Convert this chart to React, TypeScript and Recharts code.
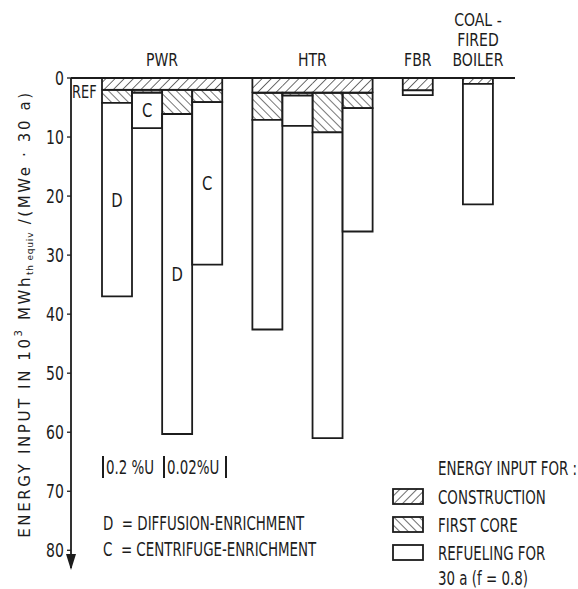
import { BarChart, Bar, XAxis, YAxis, ReferenceLine, LabelList } from 'recharts'

const FONT = "'DejaVu Sans', sans-serif"
const INK = '#1c1c1c'
const SQUEEZE = 0.67

// slots along the x axis; gap slots keep the groups apart
const categories = ['PWR-D-0.2', 'PWR-C-0.2', 'PWR-D-0.02', 'PWR-C-0.02', 'gap1', 'HTR-1', 'HTR-2', 'HTR-3', 'HTR-4', 'gap2', 'FBR', 'gap3', 'COAL']
const construction = [2.0, 2.0, 2.0, 2.0, null, 2.5, 2.5, 2.5, 2.5, null, 2.1, null, 1.0]
const firstCore = [2.2, 0.5, 4.1, 2.1, null, 4.6, 0.5, 6.7, 2.6, null, null, null, null]
const refueling = [32.8, 6.0, 54.2, 27.5, null, 35.5, 5.1, 51.8, 20.9, null, 0.8, null, 20.4]
const enrichment = ['D', 'C', 'D', 'C', null, null, null, null, null, null, null, null, null]

const groups = [
  { label: ['PWR'], start: 0, size: 4 },
  { label: ['HTR'], start: 5, size: 4 },
  { label: ['FBR'], start: 10, size: 1 },
  { label: ['COAL -', 'FIRED', 'BOILER'], start: 12, size: 1 },
]

const yTicks = [0, 10, 20, 30, 40, 50, 60, 70, 80]

const data = categories.map((name, i) => ({
  name,
  construction: construction[i],
  firstCore: firstCore[i],
  refueling: refueling[i],
  enrich: enrichment[i],
}))

const legendTitle = 'ENERGY INPUT FOR :'
const legendItems = [
  { key: 'constr', text: ['CONSTRUCTION'] },
  { key: 'core', text: ['FIRST CORE'] },
  { key: 'none', text: ['REFUELING FOR', '30 a (f = 0.8)'] },
]
const notes = ['D  = DIFFUSION-ENRICHMENT', 'C  = CENTRIFUGE-ENRICHMENT']
const uranium = ['0.2 %U', '0.02%U']

function groupOf(i: number) {
  return groups.find((g) => i >= g.start && i < g.start + g.size)
}

function squeeze(x: number, s = SQUEEZE) {
  return `translate(${x},0) scale(${s},1) translate(${-x},0)`
}

function ConstructionShape(props: any) {
  const { x, width, index } = props
  const y = Math.min(props.y, props.y + props.height)
  const h = Math.abs(props.height)
  const g = groupOf(index)
  const first = g ? index === g.start : true
  const last = g ? index === g.start + g.size - 1 : true
  return (
    <g stroke={INK} strokeWidth={1.8}>
      <rect x={x} y={y} width={width} height={h} fill="url(#constr)" stroke="none" />
      <line x1={x} x2={x + width} y1={y + h} y2={y + h} />
      {first && <line x1={x} x2={x} y1={y} y2={y + h} />}
      {last && <line x1={x + width} x2={x + width} y1={y} y2={y + h} />}
    </g>
  )
}

function GroupTick(props: any) {
  const { x, y, index } = props
  const g = groups.find((gr) => gr.start === index)
  if (!g) return null
  const slot = 30
  const cx = x + ((g.size - 1) * slot) / 2
  const n = g.label.length
  return (
    <text x={cx} y={y - 12} textAnchor="middle" fontFamily={FONT} fontSize={18} fill={INK} transform={squeeze(cx, 0.78)}>
      {g.label.map((line, k) => (
        <tspan key={k} x={cx} y={y - 12 - (n - 1 - k) * 20}>
          {line}
        </tspan>
      ))}
    </text>
  )
}

function YTick(props: any) {
  const { x, y, payload } = props
  return (
    <text x={x} y={y} dy={7} textAnchor="end" fontFamily={FONT} fontSize={19} fill={INK} transform={squeeze(x, 0.74)}>
      {payload.value}
    </text>
  )
}

function BarLetter(props: any) {
  const { x, y, width, height, value } = props
  if (!value) return null
  const cx = x + width / 2
  const cy = y + height / 2
  return (
    <text x={cx} y={cy} dy={7} textAnchor="middle" fontFamily={FONT} fontSize={20} fill={INK} transform={squeeze(cx, 0.74)}>
      {value}
    </text>
  )
}

function YLabel(props: any) {
  const vb = props.viewBox
  const cx = vb.x - 1
  const cy = vb.y + vb.height / 2 - 9
  return (
    <text
      x={cx}
      y={cy}
      transform={`rotate(-90, ${cx}, ${cy})`}
      textAnchor="middle"
      dominantBaseline="central"
      fontFamily={FONT}
      fontSize={15}
      letterSpacing={2.6}
      fill={INK}
    >
      <tspan>ENERGY INPUT IN 10</tspan>
      <tspan dy={-7} fontSize={10}>3</tspan>
      <tspan dy={7}> MWh</tspan>
      <tspan dy={5} fontSize={9} letterSpacing={0.8}>th equiv</tspan>
      <tspan dy={-5}>{' /(MWe · 30 a)'}</tspan>
    </text>
  )
}

function Line({ left, top, children }: { left: number; top: number; children: any }) {
  return (
    <div
      style={{
        position: 'absolute',
        left,
        top,
        fontFamily: FONT,
        fontSize: 20,
        lineHeight: '20px',
        color: INK,
        whiteSpace: 'pre',
        transform: `scaleX(${SQUEEZE})`,
        transformOrigin: 'left top',
      }}
    >
      {children}
    </div>
  )
}

function Swatch({ kind, top }: { kind: string; top: number }) {
  return (
    <svg width={32} height={17} style={{ position: 'absolute', left: 392, top }}>
      <defs>
        <pattern id={`lg-${kind}`} width={6} height={6} patternUnits="userSpaceOnUse" patternTransform={`rotate(${kind === 'constr' ? 45 : -45})`}>
          <line x1={0} y1={0} x2={0} y2={6} stroke={INK} strokeWidth={1.3} />
        </pattern>
      </defs>
      <rect x={1} y={1} width={30} height={15} fill={kind === 'none' ? '#fff' : `url(#lg-${kind})`} stroke={INK} strokeWidth={1.8} />
    </svg>
  )
}

function LegendBox() {
  const rowTops = [487, 515, 543]
  return (
    <>
      <Line left={438} top={458}>{legendTitle}</Line>
      {legendItems.map((it, i) => (
        <div key={it.key}>
          <Swatch kind={it.key} top={rowTops[i] + 1} />
          {it.text.map((t, k) => (
            <Line key={t} left={438} top={rowTops[i] + k * 25}>{t}</Line>
          ))}
        </div>
      ))}
    </>
  )
}

export default function App() {
  return (
    <div style={{ position: 'fixed', left: 0, top: 0, width: 578, height: 589, background: '#fff', overflow: 'hidden' }}>
      <BarChart
        width={578}
        height={589}
        data={data}
        margin={{ top: 48, right: 63, bottom: 21, left: 26 }}
        barCategoryGap={0}
        barGap={0}
      >
        <defs>
          <pattern id="constr" width={6.5} height={6.5} patternUnits="userSpaceOnUse" patternTransform="rotate(45)">
            <line x1={0} y1={0} x2={0} y2={6.5} stroke={INK} strokeWidth={1.3} />
          </pattern>
          <pattern id="core" width={6} height={6} patternUnits="userSpaceOnUse" patternTransform="rotate(-45)">
            <line x1={0} y1={0} x2={0} y2={6} stroke={INK} strokeWidth={1.2} />
          </pattern>
          <marker id="arrow" viewBox="0 0 16 10" refX={14} refY={5} markerWidth={16} markerHeight={10} markerUnits="userSpaceOnUse" orient="auto">
            <path d="M0,0 L16,5 L0,10 Z" fill={INK} />
          </marker>
        </defs>
        <XAxis
          dataKey="name"
          orientation="top"
          height={30}
          padding={{ left: 31, right: 22 }}
          axisLine={{ stroke: INK, strokeWidth: 1.8 }}
          tickLine={false}
          tickSize={0}
          tickMargin={0}
          interval={0}
          tick={<GroupTick />}
        />
        <YAxis
          reversed
          domain={[0, 83]}
          ticks={yTicks}
          allowDataOverflow
          width={45}
          axisLine={{ stroke: INK, strokeWidth: 1.8, markerEnd: 'url(#arrow)' }}
          tickLine={{ stroke: INK, strokeWidth: 1.3 }}
          tickSize={4}
          tickMargin={3}
          tick={<YTick />}
          label={{ content: <YLabel /> }}
        />
        <ReferenceLine
          y={2.3}
          stroke="none"
          label={{ value: 'REF', position: 'insideLeft', offset: 1, fill: INK, fontSize: 18, fontFamily: FONT, transform: squeeze(72, 0.72) }}
        />
        <Bar dataKey="construction" stackId="a" shape={<ConstructionShape />} isAnimationActive={false} />
        <Bar dataKey="firstCore" stackId="a" fill="url(#core)" stroke={INK} strokeWidth={1.8} isAnimationActive={false} />
        <Bar dataKey="refueling" stackId="a" fill="#fff" stroke={INK} strokeWidth={1.8} isAnimationActive={false}>
          <LabelList dataKey="enrich" content={<BarLetter />} />
        </Bar>
      </BarChart>
      <LegendBox />
      <div style={{ position: 'absolute', left: 102, top: 456, display: 'flex', height: 22 }}>
        {uranium.map((u, i) => (
          <div
            key={u}
            style={{
              position: 'relative',
              width: i === 0 ? 59 : 60,
              borderLeft: `2px solid ${INK}`,
              borderRight: i === uranium.length - 1 ? `2px solid ${INK}` : 'none',
            }}
          >
            <Line left={2} top={1}>{u}</Line>
          </div>
        ))}
      </div>
      {notes.map((n, i) => (
        <Line key={n} left={103} top={513 + i * 26}>{n}</Line>
      ))}
    </div>
  )
}
